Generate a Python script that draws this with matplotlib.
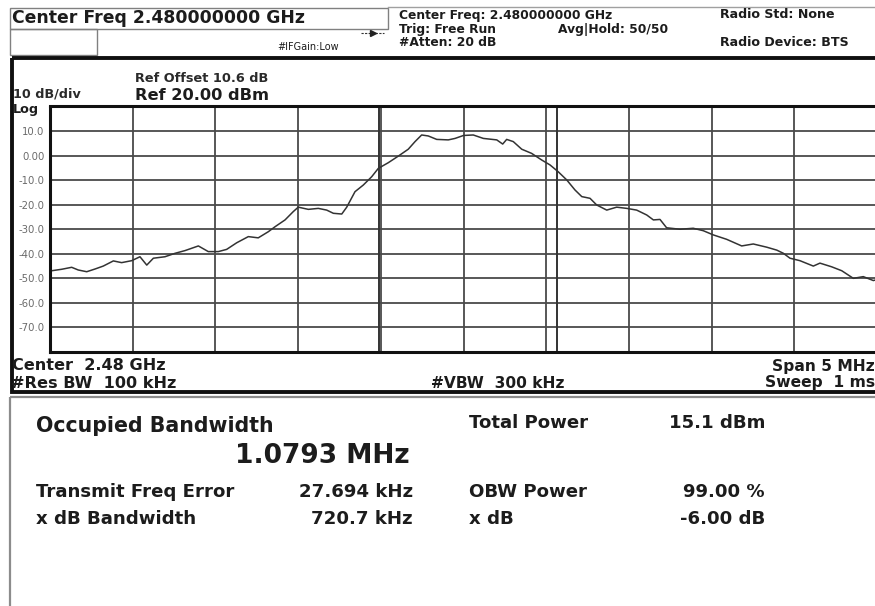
import matplotlib
matplotlib.use('Agg')
import matplotlib.pyplot as plt
import matplotlib.ticker as ticker
from matplotlib.patches import Rectangle

# spectrum analyser settings
center_mhz = 2480.0
span_mhz = 5.0
ref_level = 20.0
obw_mhz = 1.0793
freq_err_khz = 27.694

# trace: offset from centre (MHz), level (dBm)
offset_mhz = [-2.500, -2.490, -2.429, -2.369, -2.329, -2.278, -2.228, -2.178,
              -2.117, -2.067, -2.006, -1.956, -1.915, -1.875, -1.805, -1.744,
              -1.684, -1.603, -1.543, -1.482, -1.432, -1.371, -1.301, -1.241,
              -1.180, -1.140, -1.079, -1.029, -0.999, -0.938, -0.878, -0.827,
              -0.787, -0.736, -0.706, -0.656, -0.606, -0.555, -0.515, -0.455,
              -0.394, -0.334, -0.293, -0.253, -0.213, -0.162, -0.092, -0.051,
              0.000, 0.059, 0.120, 0.201, 0.237, 0.261, 0.301, 0.352,
              0.412, 0.473, 0.523, 0.573, 0.624, 0.674, 0.715, 0.765,
              0.805, 0.866, 0.926, 0.987, 1.047, 1.108, 1.148, 1.188,
              1.228, 1.309, 1.389, 1.450, 1.510, 1.591, 1.682, 1.752,
              1.833, 1.894, 1.934, 1.974, 2.034, 2.115, 2.155, 2.226,
              2.287, 2.357, 2.417, 2.478, 2.500]
level_dbm = [-46.6, -46.9, -46.3, -45.5, -46.6, -47.3, -46.2, -45.0,
             -42.9, -43.6, -42.8, -41.2, -44.6, -41.8, -41.2, -39.8,
             -38.7, -36.8, -39.1, -39.1, -38.2, -35.5, -33.0, -33.5,
             -31.0, -29.0, -26.2, -22.8, -21.0, -21.9, -21.5, -22.2,
             -23.5, -23.8, -21.0, -14.7, -12.0, -8.6, -5.2, -2.9,
             -0.2, 2.6, 5.7, 8.4, 8.0, 6.6, 6.4, 7.0,
             8.2, 8.4, 7.0, 6.4, 4.7, 6.6, 5.7, 2.6,
             0.9, -1.8, -3.8, -6.6, -9.9, -14.0, -16.7, -17.4,
             -20.1, -22.2, -21.0, -21.5, -22.2, -24.2, -26.2, -26.0,
             -29.4, -30.0, -29.6, -30.6, -32.3, -34.1, -36.8, -36.0,
             -37.3, -38.5, -39.8, -41.8, -42.8, -45.0, -43.8, -45.3,
             -46.9, -50.0, -49.3, -50.9, -50.5]

ytick_vals = [10, 0, -10, -20, -30, -40, -50, -60, -70]
ytick_labels = ['10.0', '0.00', '-10.0', '-20.0', '-30.0', '-40.0',
                '-50.0', '-60.0', '-70.0']

header_mid = ['Center Freq: 2.480000000 GHz', 'Trig: Free Run', '#Atten: 20 dB']
header_right = ['Radio Std: None', 'Radio Device: BTS']

result_labels_left = ['Transmit Freq Error', 'x dB Bandwidth']
result_values_left = ['27.694 kHz', '720.7 kHz']
result_labels_right = ['Total Power', 'OBW Power', 'x dB']
result_values_right = ['15.1 dBm', '99.00 %', '-6.00 dB']

W, H = 875, 606
ink = '#1c1c1c'

fig = plt.figure(figsize=(W / 100, H / 100), dpi=100)
fig.patch.set_facecolor('white')

# full-figure layer in pixel units for the screen furniture
bg = fig.add_axes([0, 0, 1, 1])
bg.set_xlim(0, W)
bg.set_ylim(H, 0)
bg.axis('off')

bg.add_patch(Rectangle((10, 8), 378, 21, fill=False, ec='#808080', lw=1))
bg.add_patch(Rectangle((10, 29), 87, 26, fill=False, ec='#808080', lw=1))
bg.plot([388, W], [7, 7], color='#a0a0a0', lw=1)
bg.add_patch(Rectangle((12, 58), 900, 334, fill=False, ec='#101010', lw=2.8))
bg.add_patch(Rectangle((10, 397), 900, 240, fill=False, ec='#8c8c8c', lw=1.6))

bg.text(12, 18, 'Center Freq 2.480000000 GHz', fontsize=12.4,
        fontweight='bold', color=ink, va='center')
bg.text(277, 47, '#IFGain:Low', fontsize=7, color=ink, va='center')
bg.plot([361, 384], [33, 33], color='#333333', lw=0.8, ls=(0, (2, 1.2)))
bg.plot([373], [33], marker='>', ms=4, color='#222222')

for i, s in enumerate(header_mid):
    bg.text(399, 15 + 14 * i, s, fontsize=8.8, fontweight='bold',
            color=ink, va='center')
bg.text(558, 29, 'Avg|Hold: 50/50', fontsize=8.8, fontweight='bold',
        color=ink, va='center')
bg.text(720, 15, header_right[0], fontsize=9.1, fontweight='bold',
        color=ink, va='center')
bg.text(720, 43, header_right[1], fontsize=9.1, fontweight='bold',
        color=ink, va='center')

bg.text(135, 79, 'Ref Offset 10.6 dB', fontsize=9.3, fontweight='bold',
        color='#2a2a2a', va='center')
bg.text(135, 96, 'Ref %.2f dBm' % ref_level, fontsize=11.7,
        fontweight='bold', color=ink, va='center')
bg.text(13, 94, '10 dB/div', fontsize=9.2, fontweight='bold',
        color='#2a2a2a', va='center')
bg.text(13, 110, 'Log', fontsize=9.2, fontweight='bold',
        color=ink, va='center')

bg.text(12, 366, 'Center  2.48 GHz', fontsize=11.6, fontweight='bold',
        color=ink, va='center')
bg.text(11, 383, '#Res BW  100 kHz', fontsize=11.6, fontweight='bold',
        color=ink, va='center')
bg.text(431, 383, '#VBW  300 kHz', fontsize=11.2, fontweight='bold',
        color=ink, va='center')
bg.text(W, 366, 'Span 5 MHz', fontsize=11.2, fontweight='bold',
        color=ink, va='center', ha='right')
bg.text(W, 383, 'Sweep  1 ms', fontsize=11.2, fontweight='bold',
        color=ink, va='center', ha='right')

# results panel
bg.text(36, 426, 'Occupied Bandwidth', fontsize=14.8, fontweight='bold',
        color=ink, va='center')
bg.text(410, 456, '%.4f MHz' % obw_mhz, fontsize=19, fontweight='bold',
        color=ink, va='center', ha='right')
for i, (lab, val) in enumerate(zip(result_labels_left, result_values_left)):
    y = 492 + 27 * i
    bg.text(36, y, lab, fontsize=13.1, fontweight='bold', color=ink, va='center')
    bg.text(413, y, val, fontsize=13.1, fontweight='bold', color=ink,
            va='center', ha='right')
for lab, val, y in zip(result_labels_right, result_values_right, [423, 492, 519]):
    bg.text(469, y, lab, fontsize=13.1, fontweight='bold', color=ink, va='center')
    bg.text(765, y, val, fontsize=13.1, fontweight='bold', color=ink,
            va='center', ha='right')

# trace axes (grid runs 10 divisions, right edge just past the screen)
x0, x1, y0, y1 = 50, 877, 106.5, 352
ax = fig.add_axes([x0 / W, 1 - y1 / H, (x1 - x0) / W, (y1 - y0) / H])
ax.set_xlim(center_mhz - span_mhz / 2, center_mhz + span_mhz / 2)
ax.set_ylim(ref_level - 100, ref_level)
ax.xaxis.set_major_locator(ticker.MultipleLocator(span_mhz / 10))
ax.yaxis.set_major_locator(ticker.MultipleLocator(10))
ax.grid(True, color='#4a4a4a', lw=1.3)
ax.set_axisbelow(True)
ax.tick_params(length=0, labelbottom=False)
ax.set_yticks(ytick_vals)
ax.set_yticklabels(ytick_labels, fontsize=7.3, color='#6a6a6a')
ax.tick_params(axis='y', pad=4)
for sp in ax.spines.values():
    sp.set_linewidth(2.2)
    sp.set_color('#111111')

# occupied bandwidth markers
obw_center = center_mhz + freq_err_khz / 1000
for m in (obw_center - obw_mhz / 2, obw_center + obw_mhz / 2):
    ax.axvline(m, color='#333333', lw=1.4)

freqs = [center_mhz + f for f in offset_mhz]
ax.plot(freqs, level_dbm, color='#333333', lw=1.1)

fig.savefig('out.png', dpi=100)
